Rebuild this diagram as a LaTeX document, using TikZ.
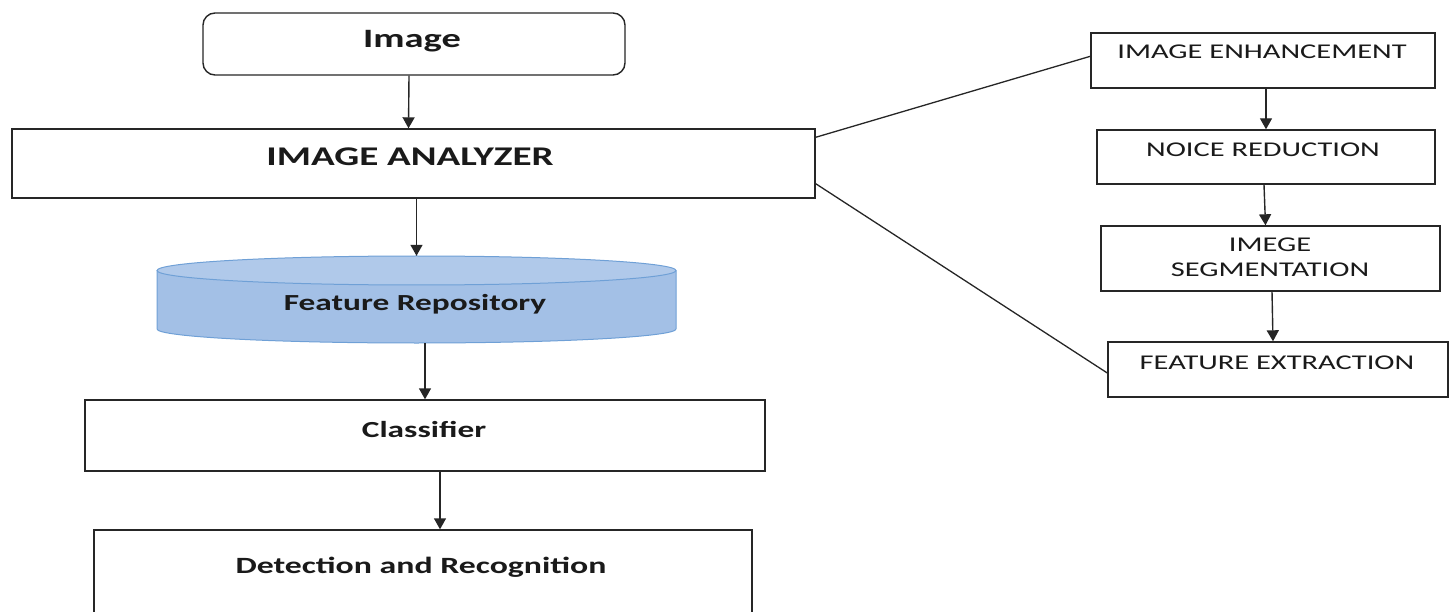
\documentclass[tikz,border=0pt]{standalone}
\usepackage{fontspec}
\setmainfont{Carlito}
\usetikzlibrary{arrows.meta}
\definecolor{edge}{HTML}{262626}
\definecolor{ink}{HTML}{1A1A1A}
\definecolor{cylfill}{HTML}{A3C0E6}
\definecolor{cyltop}{HTML}{B0C9EA}
\definecolor{cyledge}{HTML}{6FA0D6}
\newcommand{\wide}[1]{\scalebox{1.45}[1]{#1}}
\tikzset{
  box/.style={draw=edge, line width=1.4pt, inner sep=0pt, fill=white},
  flow/.style={draw=edge, line width=1.4pt, -{Triangle[length=11pt,width=12pt]}},
  link/.style={draw=edge, line width=1.3pt},
  btxt/.style={anchor=base, inner sep=0pt, text=ink},
  rtxt/.style={anchor=base, inner sep=0pt, text=ink,
               font=\fontsize{21}{25}\selectfont},
}
\begin{document}
\begin{tikzpicture}[x=1pt, y=-1pt]
\useasboundingbox (0,0) rectangle (1453,612);
\clip (0,0) rectangle (1453,612);

% left column
\node[box, rounded corners=12pt, minimum width=422pt, minimum height=62pt] (img) at (414,44) {};
\node[btxt, font=\bfseries\fontsize{26.5}{30}\selectfont] at (412,48) {\wide{Image}};

\node[box, minimum width=803pt, minimum height=69pt] (ana) at (413.5,163.5) {};
\node[btxt, font=\bfseries\fontsize{27}{30}\selectfont] at (410,166) {\wide{IMAGE ANALYZER}};

% feature repository drawn as a cylinder
\node[inner sep=0pt, minimum width=519pt, minimum height=87pt] (repo) at (416.5,299.5) {};
\filldraw[fill=cylfill, draw=cyledge, line width=1pt]
  (157,270.5) -- (157,329) arc[start angle=180, end angle=0, x radius=259.5, y radius=14] -- (676,270.5);
\filldraw[fill=cyltop, draw=cyledge, line width=1pt]
  (416.5,270.5) ellipse[x radius=259.5, y radius=14.5];
\node[btxt, font=\bfseries\fontsize{23}{27}\selectfont] at (415,310) {\wide{Feature Repository}};

\node[box, minimum width=680pt, minimum height=71pt] (cls) at (425,435.5) {};
\node[btxt, font=\bfseries\fontsize{23}{27}\selectfont] at (424,437) {\wide{Classifier}};

\node[box, minimum width=658pt, minimum height=100pt] (det) at (423,580) {};
\node[btxt, font=\bfseries\fontsize{23.3}{27}\selectfont] at (421,573) {\wide{Detection and Recognition}};

% right column
\node[box, minimum width=344pt, minimum height=55pt] (enh) at (1263,60.5) {};
\node[rtxt] at (1262,59) {\wide{IMAGE ENHANCEMENT}};

\node[box, minimum width=338pt, minimum height=54pt] (nr) at (1266,157) {};
\node[rtxt] at (1263,157) {\wide{NOICE REDUCTION}};

\node[box, minimum width=339pt, minimum height=65pt] (seg) at (1270.5,258.5) {};
\node[rtxt] at (1270,252) {\wide{IMEGE}};
\node[rtxt] at (1270,276.5) {\wide{SEGMENTATION}};

\node[box, minimum width=340pt, minimum height=55pt] (fe) at (1278,369.5) {};
\node[rtxt] at (1277,369) {\wide{FEATURE EXTRACTION}};

% arrows
\draw[flow] ([xshift=-5pt]img.south) -- ([xshift=-5pt]ana.north);
\draw[flow] (ana.south -| repo.north) -- (repo.north);
\draw[flow] (repo.south -| cls.north) -- (cls.north);
\draw[flow] ([xshift=15pt]cls.south) -- ([xshift=17pt]det.north);

\draw[flow] (enh.south -| nr.north) -- (nr.north);
\draw[flow] ([xshift=-2pt]nr.south) -- ([xshift=-5pt]seg.north);
\draw[flow] ([xshift=1.5pt]seg.south) -- ([xshift=-5pt]fe.north);

% links from the analyzer to its stages
\draw[link] ([yshift=-9pt]ana.north east) -- ([yshift=-24pt]enh.north west);
\draw[link] ([yshift=15pt]ana.south east) -- ([yshift=-3.5pt]fe.west);
\end{tikzpicture}
\end{document}
